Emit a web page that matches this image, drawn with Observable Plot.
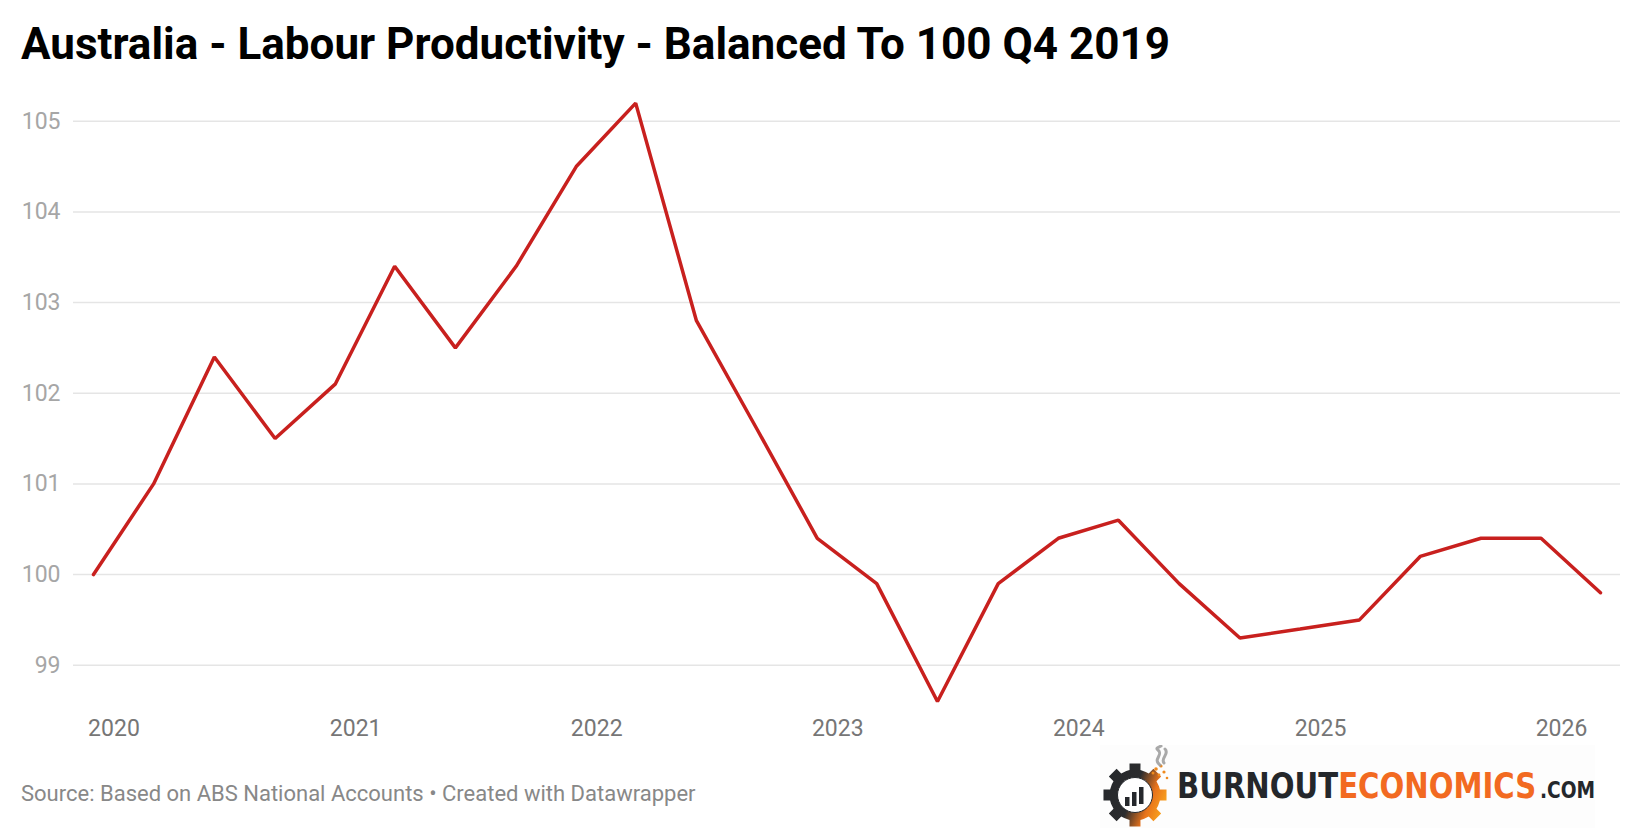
<!DOCTYPE html>
<html><head><meta charset="utf-8">
<script src="https://cdn.jsdelivr.net/npm/d3@7"></script>
<script src="https://cdn.jsdelivr.net/npm/@observablehq/plot@0.6"></script>
<style>
body{margin:0;background:#fff;}
#wrap{position:relative;width:1640px;height:828px;font-family:Roboto,sans-serif;overflow:hidden;background:#fff}
#title{position:absolute;left:21px;top:22px;font-weight:700;font-size:44px;line-height:1;color:#000;margin:0;white-space:nowrap}
#chart{position:absolute;left:0;top:80px}
#source{position:absolute;left:21px;top:783px;font-size:22px;line-height:1;color:#888;white-space:nowrap}
#logo{position:absolute;left:1090px;top:745px}
</style>
</head><body>
<div id="wrap">
  <div id="title">Australia - Labour Productivity - Balanced To 100 Q4 2019</div>
  <div id="chart"></div>
  <div id="source">Source: Based on ABS National Accounts • Created with Datawrapper</div>
  <svg id="logo" width="540" height="83" viewBox="0 12 540 83">
    <defs>
      <linearGradient id="gearGrad" x1="0" y1="0.2" x2="1" y2="0.6">
        <stop offset="0" stop-color="#25282c"/>
        <stop offset="0.5" stop-color="#2b2c2e"/>
        <stop offset="0.78" stop-color="#e8731c"/>
        <stop offset="1" stop-color="#f9a21e"/>
      </linearGradient>
    </defs>
    <rect x="10" y="12" width="495" height="83" fill="#fdfdfd"/>
    <g id="gear" transform="translate(45,62)"></g>
    <g fill="#f08a1d">
      <circle cx="66" cy="36" r="1.8"/><circle cx="71" cy="33" r="1.6"/><circle cx="74" cy="39" r="1.6"/>
      <circle cx="69" cy="42" r="1.4"/><circle cx="77" cy="45" r="1.3"/><circle cx="63" cy="40" r="1.5"/>
    </g>
    <path d="M70 32 C62 26 74 22 68 17 C65 15 69 14 71 13 M74 30 C70 25 80 21 75 16" stroke="#9a9a9a" stroke-width="3" fill="none" stroke-linecap="round" opacity="0.85"/>
    <g id="logotext" transform="translate(87,65.3) scale(0.918,1)">
      <text x="0" y="0" font-family="DejaVu Sans Condensed, DejaVu Sans" font-weight="700" font-size="36"><tspan fill="#24272b">BURNOUT</tspan><tspan fill="#f26a21">ECONOMICS</tspan><tspan fill="#24272b" font-size="23" dx="4">.COM</tspan></text>
    </g>
  </svg>
</div>
<script>
// ---- data ----
const dates = [
  "2019-12-01","2020-03-01","2020-06-01","2020-09-01","2020-12-01",
  "2021-03-01","2021-06-01","2021-09-01","2021-12-01",
  "2022-03-01","2022-06-01","2022-09-01","2022-12-01",
  "2023-03-01","2023-06-01","2023-09-01","2023-12-01",
  "2024-03-01","2024-06-01","2024-09-01","2024-12-01",
  "2025-03-01","2025-06-01","2025-09-01","2025-12-01",
  "2026-03-01"
];
const values = [
  100.0, 101.0, 102.4, 101.5, 102.1,
  103.4, 102.5, 103.4, 104.5,
  105.2, 102.8, 101.6, 100.4,
  99.9, 98.6, 99.9, 100.4,
  100.6, 99.9, 99.3, 99.4,
  99.5, 100.2, 100.4, 100.4,
  99.8
];
const yTicks = [99, 100, 101, 102, 103, 104, 105];
const xTickYears = ["2020","2021","2022","2023","2024","2025","2026"];

// ---- build ----
const data = dates.map((d, i) => ({date: new Date(d + "T00:00:00Z"), value: values[i]}));
const xTicks = xTickYears.map(y => new Date(y + "-01-01T00:00:00Z"));

const chart = Plot.plot({
  width: 1640,
  height: 665,
  marginLeft: 73,
  marginRight: 20,
  marginTop: 22.6,
  marginBottom: 44,
  x: {type: "utc", domain: [data[0].date, data[data.length - 1].date], insetLeft: 20, insetRight: 20},
  y: {domain: [98.6, 105.2]},
  style: {fontFamily: "Roboto, sans-serif", background: "transparent", overflow: "visible"},
  marks: [
    Plot.gridY(yTicks, {stroke: "#e5e5e5", strokeOpacity: 1, strokeWidth: 1.5}),
    Plot.axisY(yTicks, {tickSize: 0, tickPadding: 13, fontSize: 23, fill: "#a6a6a6", tickFormat: d3.format("d"), label: null}),
    Plot.axisX(xTicks, {tickSize: 0, tickPadding: 18, fontSize: 23, fill: "#767676", tickFormat: d3.utcFormat("%Y"), label: null}),
    Plot.line(data, {x: "date", y: "value", stroke: "#c8201e", strokeWidth: 3.5, strokeLinejoin: "miter"})
  ]
});
document.getElementById("chart").appendChild(chart);

// ---- logo gear ----
(function(){
  const g = d3.select("#gear");
  const teeth = 8, rOuter = 32, rBody = 25.5;
  let pts = [];
  for (let i = 0; i < teeth; i++) {
    const a0 = (i / teeth) * 2 * Math.PI;
    const w = Math.PI / teeth * 0.55;
    const step = 2 * Math.PI / teeth;
    pts.push([a0 - step/2 + w*0.2, rBody]);
    pts.push([a0 - w, rBody]);
    pts.push([a0 - w*0.8, rOuter]);
    pts.push([a0 + w*0.8, rOuter]);
    pts.push([a0 + w, rBody]);
  }
  const path = pts.map((p, i) => (i ? "L" : "M") + (p[1]*Math.cos(p[0])).toFixed(2) + " " + (p[1]*Math.sin(p[0])).toFixed(2)).join(" ") + "Z";
  g.append("path").attr("d", path).attr("fill", "url(#gearGrad)");
  g.append("circle").attr("r", 17.5).attr("fill", "#fff");
  g.append("circle").attr("r", 17.5).attr("fill", "none").attr("stroke", "#25282c").attr("stroke-width", 1);
  g.append("rect").attr("x", -10).attr("y", 2).attr("width", 4.5).attr("height", 9).attr("fill", "#25282c");
  g.append("rect").attr("x", -3).attr("y", -3).attr("width", 4.5).attr("height", 14).attr("fill", "#25282c");
  g.append("rect").attr("x", 4).attr("y", -8).attr("width", 4.5).attr("height", 17).attr("fill", "#25282c");
  // fit the wordmark into the reference's width
  const t = document.querySelector("#logotext text");
  const w = t.getComputedTextLength() + 4;
  if (w > 0) document.getElementById("logotext").setAttribute("transform", `translate(87,65.3) scale(${(418 / w).toFixed(4)},1)`);
})();
</script>
</body></html>
